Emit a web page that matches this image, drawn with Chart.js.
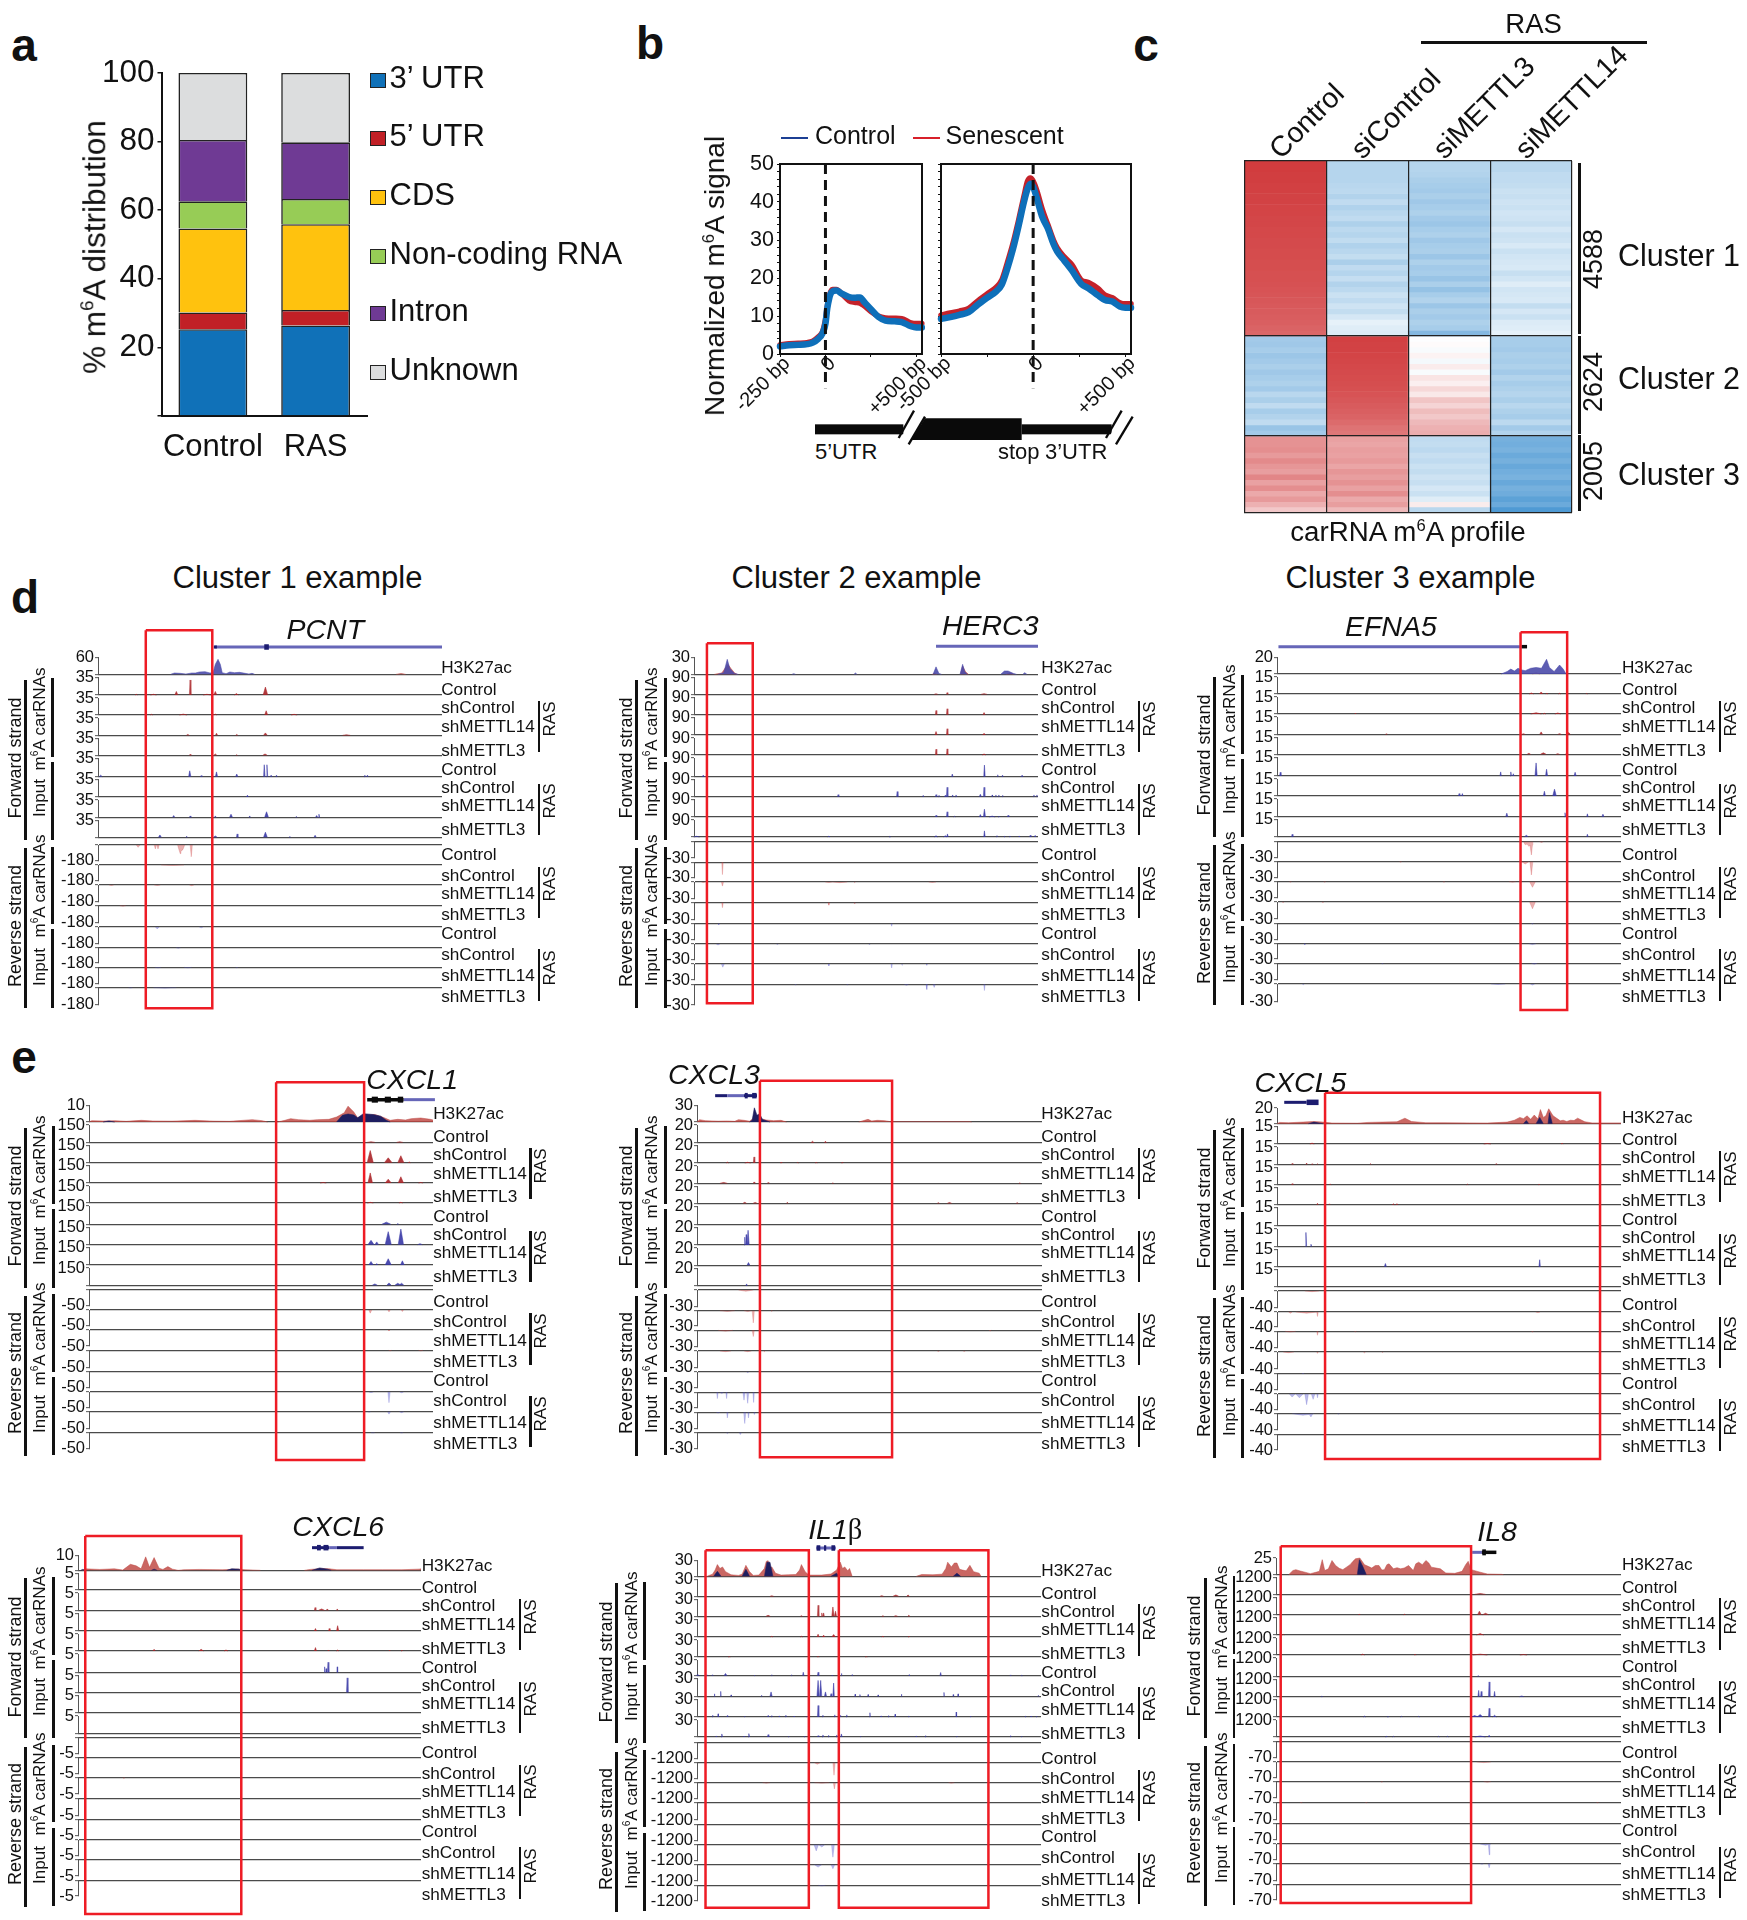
<!doctype html>
<html><head><meta charset="utf-8">
<style>
html,body{margin:0;padding:0;background:#fff;width:1747px;height:1920px;overflow:hidden;position:relative;font-family:"Liberation Sans",Arial,sans-serif;color:#111}
canvas{position:absolute}
.t{position:absolute;white-space:nowrap;line-height:1}
.r{position:absolute;background:#111}
sup{font-size:.6em;line-height:0;vertical-align:.62em}
</style>
<script src="https://cdn.jsdelivr.net/npm/chart.js@4"></script>
</head><body>
<script>
/* ---------- panel a ---------- */
const aCategories=['Control','RAS'];
const aSeries=["3’ UTR","5’ UTR","CDS","Non-coding RNA","Intron","Unknown"];
const aColors=['#1071b8','#c12026','#ffc20e','#97cc56','#6f3a94','#dcddde'];
const aControl=[25.3,4.9,24.5,7.9,17.9,19.5];
const aRAS=[26.4,4.5,25,7.4,16.5,20.2];
const aTicks=[20,40,60,80,100];

/* ---------- panel b ---------- */
const b5Pos=[-250,-200,-150,-100,-70,-40,-15,0,10,20,30,40,60,90,130,160,190,215,250,290,330,380,420,470,500,530];
const b5Control=[2,2.3,2.4,2.6,3,4,5.5,8,12,14.5,16,16.5,16.7,15.9,15,14.8,14.9,13.6,11.8,9.8,8.8,8.6,8.4,7.3,7,7];
const b5Senescent=[2.4,2.7,2.8,3,3.4,4.5,6,9,12.5,15,16.5,17,17,15.8,14,13.6,13.4,12.6,11.2,10,9.5,9.4,9.3,8.2,8,8];
const b3Pos=[-500,-450,-400,-350,-300,-250,-200,-170,-140,-110,-80,-50,-30,-15,0,20,50,80,110,130,170,210,260,300,350,390,430,470,500,531];
const b3Control=[9.2,9.7,10.3,11,13,14.8,16.5,18.3,22.5,27.5,33.5,40,43.5,44.8,44,41,36,33,29,27,24.5,22,18.5,17.3,15.5,14.2,13.8,12.5,12.2,12.2];
const b3Senescent=[10.2,10.8,11.3,12,14,15.8,17.6,19.5,24,29,35,41.5,45.5,46.3,45.5,43,38,34,30,28,25.5,23.5,19.5,18.8,17.3,15.5,14.8,13.5,13.2,13.2];

/* ---------- panel c ---------- */
const cColumns=['Control','siControl','siMETTL3','siMETTL14'];
const cClusterGenes=[4588,2624,2005];
const cClusterRows=[32,18,14];
const heatControl=[100,100,99,99,98,98,97,97,96,96,95,95,94,94,93,93,92,92,91,91,90,90,89,88,87,86,85,84,83,82,80,78,
 -52,-54,-50,-56,-52,-48,-54,-50,-46,-52,-40,-48,-36,-50,-44,-36,-58,-52,
 56,56,58,52,60,54,50,62,48,58,44,52,40,28];
const heatSiControl=[-42,-42,-42,-42,-40,-38,-44,-36,-45,-40,-36,-46,-38,-42,-35,-45,-40,-34,-48,-36,-42,-33,-44,-38,-30,-36,-28,-34,-24,-14,-18,-20,
 98,97,97,96,95,94,93,92,91,90,88,86,84,82,80,76,72,70,
 48,46,50,48,52,46,54,50,56,48,58,44,50,36];
const heatSiMETTL3=[-42,-42,-44,-48,-50,-52,-48,-54,-50,-46,-52,-56,-50,-46,-54,-50,-48,-56,-46,-52,-50,-58,-48,-60,-50,-44,-56,-48,-52,-46,-50,-70,
 -1,2,-4,6,-6,10,-4,14,8,20,12,30,22,34,28,36,40,42,
 -36,-34,-38,-32,-36,-30,-34,-28,-32,-24,-30,-18,10,-40];
const heatSiMETTL14=[-40,-40,-36,-36,-34,-30,-32,-28,-30,-26,-28,-32,-24,-30,-28,-22,-30,-26,-24,-22,-32,-26,-18,-26,-24,-22,-34,-24,-30,-20,-18,-14,
 -50,-50,-52,-48,-50,-46,-52,-44,-50,-46,-42,-48,-40,-46,-50,-38,-52,-44,
 -78,-80,-76,-84,-78,-86,-80,-76,-86,-78,-82,-92,-84,-100];

/* ---------- browser tracks: peaks are [position, % of track scale, half-width] ---------- */
const trackNames=['H3K27ac','Control','shControl','shMETTL14','shMETTL3','Control','shControl','shMETTL14','shMETTL3','Control','shControl','shMETTL14','shMETTL3','Control','shControl','shMETTL14','shMETTL3'];

const PCNT_h3kA=[[1035,0],[1048,5],[1060,0]];
const PCNT_h3kB=[[445,0],[455,8],[470,6],[485,2],[500,8],[510,8],[520,14],[535,16],[548,8],[556,10],[562,60],[569,90],[575,60],[580,10],[590,4],[600,14],[612,10],[625,12],[640,6],[650,2],[658,6],[665,0]];
const PCNT_gene=[[560,1155,'l'],[558,566,'d'],[690,702,'e']];
const PCNT_fwd=[[[460,20,4],[496,85,2],[562,20,4],[617,8,5],[693,45,6],[355,4,3],[400,4,8],[540,4,10]],
 [[695,25,4],[478,5,10],[562,5,4],[768,4,8],[395,4,3]],
 [[565,12,3],[693,14,5],[490,5,4],[618,5,3],[905,3,10]],
 [[496,6,2],[562,8,4],[618,4,2],[692,8,6]],
 [[262,8,4],[495,32,3],[525,6,2],[565,26,3],[618,14,3],[690,65,2],[697,65,2],[708,8,3],[722,8,2],[953,8,2],[960,8,2]],
 [[646,10,3]],
 [[453,10,3],[496,8,2],[562,8,2],[603,18,4],[652,8,2],[696,32,5],[774,5,2],[827,10,3],[833,18,2]],
 [[417,14,4],[487,6,2],[562,8,5],[619,20,2],[693,30,5],[757,5,2],[823,12,3]]];
const PCNT_rev=[[[360,15,5],[405,25,3],[412,25,3],[470,55,7],[477,30,5],[499,75,3]],
 [[450,3,30]],[[290,3,6],[500,4,6],[410,3,8]],[[320,3,8]],
 [[410,12,5],[525,5,5]],[[465,4,6]],[[412,3,8],[490,3,10],[618,3,3]],[[430,3,30],[340,2,5]]];

const HERC3_h3kA=[[310,0],[330,8],[340,40],[347,60],[355,35],[365,8],[372,0],[900,0],[905,8],[912,0],[976,0],[982,50],[990,15],[998,0],[1100,0],[1110,10],[1120,0]];
const HERC3_h3kB=[[320,0],[335,10],[338,30],[345,90],[352,35],[365,5],[375,0],[520,0],[525,4],[530,0],[688,0],[692,8],[696,0],[902,0],[910,45],[918,5],[925,0],[975,0],[982,60],[988,15],[995,0],[1085,0],[1095,20],[1105,20],[1120,5],[1128,0],[1145,0],[1150,10],[1156,0]];
const HERC3_gene=[[910,1186,'l']];
const HERC3_fwd=[[[940,10,2],[910,3,5],[1040,4,8]],
 [[910,24,2],[940,34,2],[1040,12,3]],
 [[910,20,3],[940,36,2],[1040,10,4]],
 [[910,34,2],[940,36,2],[1040,6,5]],
 [[280,8,3],[954,14,2],[1041,62,2],[1077,10,1],[1090,8,2],[1143,8,3]],
 [[645,12,2],[805,30,2],[875,6,1],[910,12,2],[918,8,2],[935,8,2],[940,55,2],[955,10,2],[964,10,2],[1030,14,3],[1040,55,2],[1062,10,1],[1072,10,1],[1080,10,1],[1090,8,1],[1175,10,1],[1183,10,1]],
 [[910,10,2],[940,30,2],[960,4,2],[1030,14,3],[1041,45,3],[1062,5,8],[1105,10,2],[1080,5,2]],
 [[262,4,8],[620,5,3],[785,4,2],[910,8,4],[935,8,4],[941,18,2],[1041,36,2],[1075,8,1],[1095,6,1],[1110,6,1],[1135,6,1],[1165,10,2],[1178,8,1]]];
const HERC3_rev=[[],[[332,80,2]],[[280,3,5],[332,25,3],[620,3,10],[650,4,20],[690,4,2],[900,3,10]],[[332,30,2],[620,15,2],[690,8,2]],
 [[790,16,2],[322,8,2]],[[320,6,5],[480,3,2],[730,5,2]],[[333,20,4],[620,12,2],[790,25,2],[818,8,1],[885,8,1]],[[885,25,2],[905,15,3],[1041,30,2],[530,4,2],[670,4,2],[830,5,6]]];

const EFNA5_h3kA=[[975,0],[985,8],[995,0]];
const EFNA5_h3kB=[[888,0],[905,15],[915,30],[925,18],[935,35],[945,25],[955,20],[970,35],[985,40],[1000,35],[1014,90],[1022,40],[1035,15],[1050,55],[1060,30],[1068,0]];
const EFNA5_gene=[[272,945,'l'],[945,960,'k']];
const EFNA5_fwd=[[[999,12,5],[972,6,6],[1015,4,3],[1050,4,3],[1125,3,2]],
 [[485,5,2],[985,7,15],[1008,4,4],[1045,6,8]],
 [[999,14,4],[570,3,2],[950,3,5],[1075,10,5],[1050,4,5]],
 [[965,6,5],[1005,9,8],[1045,4,5],[1070,4,5]],
 [[277,20,2],[887,22,2],[915,22,2],[922,12,2],[985,70,3],[1014,36,3],[1093,20,3]],
 [[772,14,2],[781,14,2],[1008,28,3],[1036,40,5]],
 [[904,20,3],[1065,22,2],[1127,16,2],[1170,14,3]],
 [[310,14,2],[958,8,5],[1127,14,2]]];
const EFNA5_rev=[[[965,30,10],[972,85,4],[955,20,5],[1000,5,5]],
 [[972,85,4],[955,15,10],[610,3,3]],
 [[975,35,8],[305,3,3],[400,3,3],[730,3,3],[920,3,10]],
 [[975,40,8],[285,3,3],[395,3,3]],
 [[975,5,3]],[[345,8,2],[975,6,10]],[[560,5,2],[980,5,8]],[[975,6,6],[340,4,2],[880,3,20]]];

const CXCL1_h3kA=[[233,0],[240,8],[270,6],[300,8],[330,4],[370,10],[400,6],[450,5],[510,10],[560,5],[600,4],[660,14],[685,8],[700,0],[725,0],[745,10],[760,20],[780,14],[810,10],[830,14],[860,16],[880,30],[900,55],[910,95],[925,60],[935,25],[955,40],[980,45],[1000,30],[1020,10],[1040,16],[1060,12],[1075,20],[1100,24],[1125,16],[1132,12]];
const CXCL1_h3kB=[[270,0],[285,6],[300,0],[880,0],[895,40],[910,48],[925,42],[935,25],[950,50],[975,45],[995,35],[1010,10],[1020,0]];
const CXCL1_gene=[[1055,1137,'l'],[960,1055,'k'],[972,988,'x'],[1006,1022,'x'],[1040,1054,'x']];
const CXCL1_fwd=[[[970,3,10],[1045,3,8]],
 [[968,70,8],[1015,28,10],[1048,40,8],[1070,4,3]],
 [[968,58,6],[1015,22,8],[1048,36,7],[845,3,8],[1100,3,6]],
 [[968,4,8],[1048,4,5]],
 [[1010,12,12],[1040,5,2]],
 [[970,25,8],[985,16,5],[1015,75,8],[1048,90,7],[1098,6,6]],
 [[970,20,6],[985,8,3],[1015,36,8],[1052,24,5]],
 [[980,8,7],[1017,14,6],[1040,12,8],[1050,12,6]]];
const CXCL1_rev=[[],[[968,20,4],[1017,12,3],[1052,10,3]],[[1017,6,2]],[[1020,3,4],[1100,3,6]],
 [],[[970,4,6],[1017,70,3],[1050,5,5]],[[1017,15,4],[965,3,4],[1050,6,6]],[[975,2,5],[1050,2,4]]];

const CXCL3_h3kA=[[263,0],[270,14],[285,8],[320,5],[345,6],[365,4],[375,14],[390,10],[405,5],[420,30],[435,20],[450,12],[470,8],[490,10],[505,0],[700,0],[725,16],[735,6],[750,10],[770,8],[785,2],[1000,2],[1005,0]];
const CXCL3_h3kB=[[405,0],[412,10],[418,85],[425,40],[432,50],[440,15],[460,0]];
const CXCL3_gene=[[312,345,'d'],[345,390,'l'],[390,425,'d'],[392,400,'e'],[412,424,'e']];
const CXCL3_fwd=[[[575,8,4],[610,8,3]],
 [[417,35,2],[345,5,3],[400,4,8],[490,4,2],[535,3,2],[585,3,3],[655,3,2]],
 [[335,5,10],[417,8,2],[455,5,2],[630,3,2],[1135,3,2]],
 [[392,6,5],[420,5,6],[507,6,2],[915,4,3],[945,5,6],[1128,4,3]],
 [],[[392,45,2],[396,60,1],[401,85,3]],[[402,16,4]],[[397,10,2]]];
const CXCL3_rev=[[[395,8,20]],[[345,5,20],[415,80,3],[400,6,10],[465,4,2]],[[340,5,20],[415,38,3],[1055,4,3]],[[340,4,15],[400,4,10],[445,4,2],[915,3,3],[985,3,3]],
 [[400,4,3]],[[318,40,2],[343,40,2],[330,8,5],[390,50,3],[400,70,3],[416,65,2]],[[345,35,2],[320,4,5],[392,70,3],[402,35,2],[418,14,2]],[[345,6,3],[380,12,3]]];

const CXCL5_h3kA=[[268,0],[275,8],[300,6],[340,10],[370,14],[395,10],[420,4],[490,3],[520,8],[560,10],[600,12],[622,35],[640,14],[680,6],[730,6],[800,5],[850,4],[905,10],[925,22],[940,40],[950,32],[960,50],[970,28],[980,55],[990,30],[997,90],[1005,40],[1012,50],[1020,95],[1032,50],[1045,30],[1052,18],[1060,22],[1070,14],[1080,22],[1090,20],[1100,35],[1120,12],[1140,5],[1220,5]];
const CXCL5_h3kB=[[355,0],[370,10],[395,0],[950,0],[958,20],[965,0],[985,0],[995,40],[1005,0],[1018,0],[1022,70],[1030,0]];
const CXCL5_gene=[[288,350,'d'],[350,383,'e']];
const CXCL5_fwd=[[[365,5,6],[850,3,10],[1057,4,3]],
 [[310,5,2],[350,7,2],[365,3,2],[380,3,2],[527,4,2],[875,4,3]],
 [[310,6,2],[415,3,3],[795,3,2],[993,4,2]],
 [[380,8,2],[413,5,2],[590,5,3],[600,5,3]],
 [],[[348,80,2],[362,12,2]],[[568,18,3],[995,40,2]],[]];
const CXCL5_rev=[[[365,4,20]],[[305,8,5],[350,8,30],[380,30,2],[990,4,6]],[[305,4,15],[380,24,2],[975,4,3],[485,3,3]],[[300,4,15],[380,8,2],[510,5,3],[560,3,2]],
 [[340,3,3]],[[350,70,5],[310,20,8],[330,25,10],[368,35,5],[380,25,2]],[[340,10,30],[362,20,5],[438,3,3]],[]];

const CXCL6_h3kA=[[215,0],[222,10],[260,6],[298,10],[320,2],[340,40],[355,30],[368,10],[380,90],[390,20],[402,85],[415,14],[425,6],[438,25],[450,8],[465,0],[480,4],[520,6],[580,4],[620,8],[640,4],[680,0],[795,0],[810,6],[840,12],[860,10],[880,4],[950,4],[1000,4],[1050,4],[1095,8],[1100,10]];
const CXCL6_h3kB=[[210,0],[215,6],[222,0],[395,0],[402,8],[410,0],[592,0],[605,10],[625,8],[628,0],[815,0],[835,16],[855,8],[865,0]];
const CXCL6_gene=[[815,860,'d'],[860,880,'l'],[880,950,'d'],[828,838,'e'],[845,858,'e']];
const CXCL6_fwd=[[],[[823,16,2],[840,8,8],[855,8,3],[881,8,2]],[[824,14,3],[860,14,2],[882,30,3]],
 [[402,10,3],[525,10,6],[590,6,5],[824,20,3],[858,6,2],[882,6,3],[1018,5,2],[1050,5,2]],
 [[848,30,1],[852,20,1],[857,55,2],[881,30,1]],[[907,85,2]],[],[]];
const CXCL6_rev=[[],[],[[323,5,3]],[],[],[],[],[]];

const IL1B_h3kA=[[290,0],[305,14],[312,40],[318,75],[325,50],[332,60],[340,30],[355,10],[375,6],[385,14],[395,70],[405,30],[415,6],[430,8],[445,50],[450,95],[455,100],[460,55],[465,60],[475,20],[490,8],[510,10],[530,12],[540,40],[545,75],[555,30],[565,8],[600,8],[625,15],[640,40],[650,90],[656,50],[662,60],[670,35],[675,50],[682,0],[855,0],[870,12],[900,10],[925,14],[935,50],[940,90],[950,60],[958,85],[965,85],[972,45],[980,40],[990,35],[1000,70],[1010,30],[1025,20],[1030,0]];
const IL1B_h3kB=[[308,0],[318,32],[328,0],[385,0],[395,45],[405,0],[445,0],[452,90],[460,90],[468,0],[625,0],[640,20],[648,0],[955,0],[965,20],[975,0]];
const IL1B_gene=[[585,638,'l'],[586,596,'e'],[606,612,'e'],[626,636,'e']];
const IL1B_fwd=[[[762,4,5],[800,8,8],[833,8,4],[465,3,5]],
 [[590,65,2],[600,20,2],[605,20,2],[630,55,3],[637,30,3],[455,6,6],[545,4,3],[835,6,3],[800,4,5],[765,3,3]],
 [[590,16,3],[605,10,4],[632,14,5],[545,4,3],[465,4,3],[765,4,3],[835,5,2]],
 [[590,3,3],[350,2,3],[720,2,3]],
 [[265,6,5],[290,6,2],[305,6,2],[340,14,4],[418,4,1],[465,6,1],[518,6,1],[550,22,2],[590,22,2],[628,4,1],[653,14,1],[682,6,1],[836,6,1],[921,20,2],[1110,5,2],[1140,3,2]],
 [[310,14,1],[327,28,1],[355,8,1],[437,6,1],[463,25,3],[590,90,3],[597,90,3],[610,25,3],[625,15,2],[632,75,2],[690,12,1],[703,10,1],[725,10,1],[752,8,1],[815,12,1],[930,22,1],[955,10,1],[968,14,1],[1185,5,2]],
 [[305,10,1],[320,18,1],[345,8,1],[392,4,1],[455,8,1],[465,8,1],[485,6,1],[503,10,1],[525,5,1],[560,5,1],[590,65,2],[603,10,1],[635,12,1],[650,8,1],[667,12,1],[730,24,1],[760,6,1],[780,8,1],[798,16,1],[835,6,1],[963,28,1],[1002,5,1],[1150,6,1],[1165,5,1],[1180,5,1]],
 [[315,6,1],[330,18,2],[390,5,1],[403,20,2],[455,14,2],[510,4,1],[553,5,1],[590,8,2],[603,12,2],[618,10,1],[640,12,1],[653,18,2],[705,4,1],[855,6,1],[880,8,1],[965,5,1],[1110,8,1],[1140,4,1]]];
const IL1B_rev=[[],[[588,10,8],[633,80,3]],[[450,3,10],[600,3,20],[634,40,3],[950,3,8]],[],
 [],[[585,40,6],[600,15,8],[630,80,4]],[[590,15,10],[630,25,5]],[[600,3,10]]];

const IL8_h3kA=[[300,0],[312,25],[320,30],[332,22],[345,15],[360,6],[375,14],[385,20],[393,90],[400,25],[410,35],[420,85],[430,55],[440,38],[450,30],[460,45],[470,60],[478,80],[485,95],[497,100],[510,60],[520,50],[530,40],[540,55],[550,55],[558,28],[565,30],[572,60],[578,65],[590,35],[600,42],[610,35],[620,40],[632,55],[645,25],[652,65],[660,75],[670,60],[680,85],[688,70],[695,45],[708,40],[720,35],[735,10],[760,8],[780,20],[790,60],[797,80],[805,30],[830,15],[850,4],[890,2],[895,0]];
const IL8_h3kB=[[490,0],[496,90],[505,50],[515,0]];
const IL8_gene=[[808,835,'l'],[835,875,'k'],[836,846,'x']];
const IL8_fwd=[[[830,5,15]],[[828,20,5],[845,8,8],[495,3,2],[620,3,2]],[[830,8,10],[285,3,3]],[[505,5,5],[650,3,3],[830,5,20],[950,3,10]],
 [[825,3,3]],[[826,36,2],[833,30,2],[855,85,2],[870,30,2],[392,4,2],[945,4,6]],[[815,8,10],[830,14,8],[855,50,2],[870,10,5],[510,5,3],[575,4,2],[612,4,2],[660,4,2]],[[570,4,2],[590,4,2],[715,4,2],[740,4,2],[830,6,15],[855,10,3]]];
const IL8_rev=[[],[[840,4,20]],[[558,3,3],[850,3,10]],[[335,3,3],[515,3,3],[1155,3,3]],
 [],[[845,8,15],[855,70,2]],[[855,25,3],[835,4,5]],[]];

/* ---------- helpers ---------- */
const FONT='"Liberation Sans",Arial,sans-serif';
Chart.defaults.animation=false;
Chart.defaults.responsive=false;
Chart.defaults.events=[];
Chart.defaults.font.family=FONT;
Chart.defaults.color='#111';
Chart.defaults.plugins.legend.display=false;
Chart.defaults.plugins.tooltip.enabled=false;
const body=document.body;
function t(html,x,y,size,o={}){
  const e=document.createElement('div');e.className='t';e.innerHTML=html;
  e.style.left=x+'px';e.style.top=y+'px';e.style.fontSize=size+'px';
  if(o.bold)e.style.fontWeight='bold';
  if(o.italic)e.style.fontStyle='italic';
  const rot=o.rot||0;
  if(o.left){e.style.transformOrigin='0 50%';e.style.transform=`translate(0,-50%) rotate(${rot}deg)`;}
  else e.style.transform=`translate(-50%,-50%) rotate(${rot}deg)`;
  body.appendChild(e);return e;
}
function rect(x,y,w,h,c){const e=document.createElement('div');e.className='r';
  e.style.cssText+=`left:${x}px;top:${y}px;width:${w}px;height:${h}px;`+(c?`background:${c};`:'');body.appendChild(e);return e;}
function mk(l,tp,w,h){const c=document.createElement('canvas');c.width=w;c.height=h;c.style.left=l+'px';c.style.top=tp+'px';body.appendChild(c);return c.getContext('2d');}

/* panel letters and section titles */
t('a',24,45,46,{bold:true});t('b',650,43,46,{bold:true});t('c',1146,45,46,{bold:true});t('d',25,597,46,{bold:true});t('e',24,1057,46,{bold:true});
t('Cluster 1 example',297.5,577,31);t('Cluster 2 example',856.5,577,31);t('Cluster 3 example',1410.5,577,31);

/* ---------- panel a chart ---------- */
new Chart(mk(60,50,327,420),{type:'bar',
 data:{labels:aCategories,datasets:aSeries.map((s,i)=>({label:s,data:[aControl[i],aRAS[i]],backgroundColor:aColors[i],borderColor:'#222',borderWidth:1.6,barPercentage:.67,categoryPercentage:1}))},
 options:{layout:{padding:{top:23,right:20,left:0,bottom:0}},
  scales:{
   x:{stacked:true,grid:{display:false},border:{color:'#111',width:2},afterFit:s=>{s.height=54},ticks:{autoSkip:false,font:{size:31},padding:5,maxRotation:0}},
   y:{stacked:true,min:0,max:100,afterFit:s=>{s.width=101.5},border:{color:'#111',width:2},
    grid:{drawOnChartArea:false,tickLength:4,color:'#111',lineWidth:1.5},
    ticks:{stepSize:10,font:{size:31.5},padding:3,callback:v=>aTicks.includes(v)?String(v):''}}}}});
t('% m<sup>6</sup>A distribution',95,247,31.5,{rot:-90});
aSeries.forEach((s,i)=>{const yy=[240,415,590,767,940,1115][i]/3;
  const b=rect(369.5,yy-7,16.5,15,aColors[i]);b.style.border='1.6px solid #222';b.style.boxSizing='border-box';
  t(s,389.5,yy-3,31,{left:true});});

/* ---------- panel b charts ---------- */
const boxFrame={id:'boxFrame',afterDraw(c){const a=c.chartArea,g=c.ctx;g.save();g.strokeStyle='#111';g.lineWidth=2;g.strokeRect(a.left,a.top,a.right-a.left,a.bottom-a.top);g.restore();}};
function bChart(l,w,xmin,xmax,pos,ctl,sen,ticks,lbl,showY){
 return new Chart(mk(l,140,w,290),{type:'line',
  data:{datasets:[
   {data:[{x:0,y:50},{x:0,y:-9}],borderColor:'#111',borderWidth:3,borderDash:[10,6],pointRadius:0,clip:false},
   {data:pos.map((x,i)=>({x,y:ctl[i]})),borderColor:'#0e6fb9',borderWidth:6.5,pointRadius:0,cubicInterpolationMode:'monotone',borderCapStyle:'round',clip:false},
   {data:pos.map((x,i)=>({x,y:sen[i]})),borderColor:'#c4222a',borderWidth:5.5,pointRadius:0,cubicInterpolationMode:'monotone',borderCapStyle:'round',clip:false}]},
  options:{layout:{padding:{top:24,right:25,left:0,bottom:0}},
   scales:{
    x:{type:'linear',min:xmin,max:xmax,afterFit:s=>{s.height=76},afterBuildTicks:s=>{s.ticks=ticks.map(v=>({value:v}))},
      border:{color:'#111',width:2},grid:{drawOnChartArea:false,tickLength:3,color:'#111'},
      ticks:{autoSkip:false,minRotation:45,maxRotation:45,font:{size:20},padding:-5,labelOffset:7,callback:v=>lbl[v]||''}},
    y:{min:0,max:50,afterFit:s=>{s.width=90},border:{color:'#111',width:2},
      grid:{drawOnChartArea:false,tickLength:3,color:'#111'},
      ticks:{stepSize:2,autoSkip:false,font:{size:21.5},padding:3,callback:v=>showY&&v%10===0?String(v):''}}}},
  plugins:[boxFrame]});
}
bChart(690,257,-250,531,b5Pos,b5Control,b5Senescent,[-250,0,250,500],{'-250':'-250 bp','0':'0','500':'+500 bp'},true);
bChart(851,305,-500,531,b3Pos,b3Control,b3Senescent,[-500,-250,0,250,500],{'-500':'-500 bp','0':'0','500':'+500 bp'},false);
t('Normalized m<sup>6</sup>A signal',715,276,28,{rot:-90});
rect(781,136.5,27,2.5,'#1c3f94');rect(912.5,136.5,27,2.5,'#d8202a');
t('Control',815,135,25,{left:true});t('Senescent',945.5,135,25,{left:true});
t('5’UTR',815,452,22,{left:true});t('stop',998,452,22,{left:true});t('3’UTR',1045,452,22,{left:true});
const ns='http://www.w3.org/2000/svg';
const sv=document.createElementNS(ns,'svg');sv.setAttribute('viewBox','0 0 1560 1440');sv.setAttribute('width',520);sv.setAttribute('height',480);sv.style.cssText='position:absolute;left:640px;top:0';
sv.innerHTML='<rect x="525" y="1273" width="265" height="30" fill="#0a0a0a"/><polygon points="855,1255 1145,1255 1145,1320 815,1320" fill="#0a0a0a"/><rect x="1145" y="1273" width="270" height="30" fill="#0a0a0a"/>'+
 '<g stroke="#fff" stroke-width="20"><line x1="790" y1="1323" x2="838" y2="1240"/><line x1="1412" y1="1323" x2="1460" y2="1240"/></g>'+
 '<g stroke="#0a0a0a" stroke-width="7"><line x1="776" y1="1314" x2="822" y2="1232"/><line x1="806" y1="1333" x2="855" y2="1250"/><line x1="1398" y1="1314" x2="1445" y2="1232"/><line x1="1428" y1="1333" x2="1478" y2="1250"/></g>';
body.appendChild(sv);

/* ---------- panel c chart ---------- */
function heatColor(v){const a=Math.abs(v)/100,to=v>=0?[209,60,62]:[79,154,212];
  const c=to.map(k=>Math.round(255-a*(255-k)));return `rgb(${c[0]},${c[1]},${c[2]})`;}
const cDatasets=[];let cRow=0;
cClusterRows.forEach((n,ci)=>{for(let r=0;r<n;r++,cRow++){const g=cClusterGenes[ci]/n;
  cDatasets.push({data:cColumns.map(()=>g),stack:'s',borderWidth:0,barPercentage:1,categoryPercentage:1,
   backgroundColor:[heatControl,heatSiControl,heatSiMETTL3,heatSiMETTL14].map(col=>heatColor(col[cRow]))});}});
const cTotal=cClusterGenes[0]+cClusterGenes[1]+cClusterGenes[2];
new Chart(mk(1220,30,430,500),{type:'bar',data:{labels:cColumns,datasets:cDatasets},
 options:{layout:{padding:{left:24.4,right:78,top:0,bottom:17.5}},
  scales:{
   x:{position:'top',stacked:true,afterFit:s=>{s.height=130.7},grid:{offset:true,z:2,color:'#222',lineWidth:1.2,drawTicks:false},border:{display:false},
     ticks:{minRotation:45,maxRotation:45,autoSkip:false,font:{size:28.5},padding:-6,labelOffset:14}},
   y:{stacked:true,reverse:true,min:0,max:cTotal,afterFit:s=>{s.width=0},afterBuildTicks:s=>{s.ticks=[0,cClusterGenes[0],cClusterGenes[0]+cClusterGenes[1],cTotal].map(v=>({value:v}))},
     grid:{z:2,color:'#222',lineWidth:1.2,drawTicks:false},border:{display:false},ticks:{display:false}}}}});
rect(1577.5,162.5,3,171.5);rect(1577.5,336,3,97.6);rect(1577.5,435.4,3,76);
t('4588',1593,259,27,{rot:-90});t('2624',1593,382,27,{rot:-90});t('2005',1593,471,27,{rot:-90});
t('Cluster 1',1618,255,30.5,{left:true});t('Cluster 2',1618,378,30.5,{left:true});t('Cluster 3',1618,474,30.5,{left:true});
t('RAS',1533.6,24,27.5);rect(1421,41,226,2.5);
t('carRNA m<sup>6</sup>A profile',1408,532,27.7);

/* ---------- browser-track panels ---------- */
const GENE_STYLE={l:['#6666b8',3],d:['#1c1c70',3],k:['#0a0a0a',3.5],e:['#1c1c70',5.5],x:['#0a0a0a',6]};
const COL={fa:'rgba(170,35,40,.9)',fi:'rgba(55,55,165,.9)',ra:'rgba(205,70,70,.42)',ri:'rgba(80,80,200,.38)'};
function withGaps(p){const o=[];p.forEach((q,i)=>{if(i&&q.y===0&&p[i-1].y===0)o.push({x:(q.x+p[i-1].x)/2,y:null});o.push(q);});return o;}
function fromProfile(list,lim){return withGaps([...list].sort((a,b)=>a[0]-b[0]).map(q=>({x:q[0],y:q[1]/100*lim})));}
function fromPeaks(list,lim){
  const xs=[...new Set(list.flatMap(q=>{const w=q[2]||1.5;return[q[0]-w,q[0],q[0]+w];}))].sort((a,b)=>a-b);
  const v=x=>Math.max(...list.map(q=>{const w=q[2]||1.5;return Math.max(0,q[1]*(1-Math.abs(x-q[0])/w));}));
  return withGaps(xs.map(x=>({x,y:v(x)/100*lim})));
}
const AXW=70,PADR=8;
function panel(P){
  const ZY=3,ZX=P.zx, H=Math.min(460,1920-P.oy);
  const left=P.ox+P.xMin/ZX-AXW, W=Math.round((P.xMax-P.xMin)/ZX+AXW+PADR);
  const yp=z=>z/ZY;
  const b=P.base;
  const scales={x:{type:'linear',display:false,min:P.xMin,max:P.xMax}};
  const place={};
  const ds=[];
  const tick=(name,min,max,lim,tp,bt)=>{
    scales[name]={type:'linear',position:'left',stack:'tracks',min,max,afterFit:s=>{s.width=AXW},
      afterBuildTicks:s=>{s.ticks=[{value:0},{value:lim}]},
      border:{color:'#555',width:1},
      grid:{color:c=>c.tick&&c.tick.value===0?'#4a4a4a':'rgba(0,0,0,0)',tickColor:'#555',tickLength:3,lineWidth:1.3,tickWidth:1},
      ticks:{autoSkip:false,maxRotation:0,minRotation:0,padding:1,font:{size:16.5},color:'#111',callback:v=>v===0?'':String(v)}};
    place[name]=[yp(tp),yp(bt)];
  };
  /* frame and gene */
  scales.frame={type:'linear',display:false,min:0,max:1};place.frame=[0,H];
  scales.gene={type:'linear',display:false,min:-1,max:1};place.gene=[yp(P.geneY)-4,yp(P.geneY)+4];
  P.box.forEach(r=>{const y1=1-yp(r[2])/H,y2=1-yp(r[3])/H;
    ds.push({type:'scatter',showLine:true,xAxisID:'x',yAxisID:'frame',data:[{x:r[0],y:y1},{x:r[1],y:y1},{x:r[1],y:y2},{x:r[0],y:y2},{x:r[0],y:y1}],borderColor:'#ee1c25',borderWidth:2.5,pointRadius:0,clip:false,borderJoinStyle:'miter'});});
  [...P.gene].reverse().forEach(g=>{const st=GENE_STYLE[g[2]];
    ds.push({type:'line',xAxisID:'x',yAxisID:'gene',data:[{x:g[0],y:0},{x:g[1],y:0}],borderColor:st[0],borderWidth:st[1],pointRadius:0,clip:false});});
  /* H3K27ac */
  tick('t0',0,P.lim[0],P.lim[0],P.top,b[0]);
  const area=(list,col,yid,lim,fn)=>{if(!list.length)return;const d=fn(list,lim);
    ds.push({type:'line',xAxisID:'x',yAxisID:yid,data:d,borderColor:col,backgroundColor:col,borderWidth:.6,pointRadius:0,fill:'origin',tension:0,clip:false});};
  area(P.h3kB,P.blue,'t0',P.lim[0],fromProfile);
  area(P.h3kA,'rgba(190,70,65,.82)','t0',P.lim[0],fromProfile);
  /* forward */
  for(let i=0;i<8;i++){const n='t'+(i+1);
    tick(n,0,P.lim[1],P.lim[1],b[i]+9,b[i+1]);
    area(P.fwd[i],i<4?COL.fa:COL.fi,n,P.lim[1],fromPeaks);}
  /* reverse */
  for(let i=0;i<8;i++){const n='t'+(i+9),tp=b[i+9],bt=i<7?b[i+10]-13:P.end;
    tick(n,P.lim[2],0,P.lim[2],tp,bt);
    area(P.rev[i],i<4?COL.ra:COL.ri,n,P.lim[2],fromPeaks);}
  new Chart(mk(left,P.oy,W,H),{type:'line',data:{datasets:ds},
    options:{layout:{padding:{left:0,top:16,bottom:16,right:PADR}},scales},
    plugins:[{id:'pin',afterLayout(c){for(const k in place){const s=c.scales[k];s.top=place[k][0];s.bottom=place[k][1];s.height=s.bottom-s.top;s.configure();}}}]});

  /* text and brackets in page coordinates */
  const X=z=>P.ox+z/ZX, Y=z=>P.oy+z/ZY;
  t(P.title,X(P.tx),Y(P.ty),28.5,{italic:!P.rawTitle});
  const L=[0,68,122,178,249,307,361,416,488,563,624,680,743,799,861,926,989];
  trackNames.forEach((n,i)=>t(n,X(P.lx),Y(P.ly+L[i]),17.2,{left:true}));
  [[100,254,157],[349,503,402],[597,751,652],[845,999,902]].forEach(a=>{
    rect(X(P.rb)-1,Y(P.ly+a[0]),2.6,(a[1]-a[0])/ZY);
    t('RAS',X(P.rt),Y(P.ly+a[2]-2),17,{rot:-90});});
  const g=P.gy;
  [[360,840],[865,1345]].forEach(a=>rect(X(P.sb)-1,Y(a[0]+g),2.8,(a[1]-a[0])/ZY));
  [[355,590],[605,840],[860,1092],[1108,1343]].forEach(a=>rect(X(P.mb)-1,Y(a[0]+g),2.8,(a[1]-a[0])/ZY));
  t('Forward strand',X(P.sx),Y(595+g),18,{rot:-90});t('Reverse strand',X(P.sx),Y(1097+g),18,{rot:-90});
  [[478,'m<sup>6</sup>A carRNAs'],[715,'Input'],[978,'m<sup>6</sup>A carRNAs'],[1220,'Input']].forEach(a=>t(a[1],X(P.mx),Y(a[0]+g),17,{rot:-90}));
}
const navy='#1e1e60', mid='rgba(75,75,170,.9)';
const ZC1=1568/600, ZC2=1568/580, ZC3=1568/567;
[
 {title:'PCNT',zx:ZC1,tx:850,ty:207,ox:0,oy:560,xMin:255,xMax:1155,gene:PCNT_gene,geneY:261,top:293,end:1333,lim:[60,35,-180],base:[343,405,465,526,586,650,711,772,832,855,915,975,1037,1101,1163,1222,1283],h3kA:PCNT_h3kA,h3kB:PCNT_h3kB,fwd:PCNT_fwd,rev:PCNT_rev,blue:mid,box:[[380,554,211,1345]],lx:1153,ly:323,rb:1408,rt:1435,sx:38,sb:66,mx:103,mb:137,gy:0},
 {title:'HERC3',zx:ZC2,tx:1055,ty:195,ox:600,oy:560,xMin:255,xMax:1186,gene:HERC3_gene,geneY:259,top:293,end:1335,lim:[30,90,-30],base:[343,403,464,525,585,650,710,771,831,845,907,966,1028,1091,1152,1212,1273],h3kA:HERC3_h3kA,h3kB:HERC3_h3kB,fwd:HERC3_fwd,rev:HERC3_rev,blue:mid,box:[[290,414,250,1330]],lx:1193,ly:323,rb:1456,rt:1485,sx:70,sb:97,mx:138,mb:175,gy:0},
 {title:'EFNA5',zx:ZC3,tx:583,ty:197,ox:1180,oy:560,xMin:268,xMax:1220,gene:EFNA5_gene,geneY:260,top:293,end:1325,lim:[20,15,-30],base:[342,402,462,523,583,648,708,770,830,845,905,965,1026,1090,1151,1210,1272],h3kA:EFNA5_h3kA,h3kB:EFNA5_h3kB,fwd:EFNA5_fwd,rev:EFNA5_rev,blue:mid,box:[[942,1071,217,1350]],lx:1222,ly:323,rb:1493,rt:1520,sx:65,sb:95,mx:135,mb:172,gy:-9},
 {title:'CXCL1',zx:ZC1,tx:1077,ty:147,ox:0,oy:1030,xMin:233,xMax:1132,gene:CXCL1_gene,geneY:209,top:226,end:1255,lim:[10,150,-50],base:[276,337,398,459,519,583,644,705,766,778,840,900,961,1025,1086,1145,1208],h3kA:CXCL1_h3kA,h3kB:CXCL1_h3kB,fwd:CXCL1_fwd,rev:CXCL1_rev,blue:navy,box:[[722,952,157,1290]],lx:1132,ly:253,rb:1386,rt:1412,sx:38,sb:65,mx:103,mb:138,gy:-67},
 {title:'CXCL3',zx:ZC2,tx:308,ty:132,ox:600,oy:1030,xMin:263,xMax:1195,gene:CXCL3_gene,geneY:197,top:226,end:1255,lim:[30,20,-30],base:[276,338,399,460,520,584,645,706,767,780,842,901,963,1026,1087,1147,1208],h3kA:CXCL3_h3kA,h3kB:CXCL3_h3kB,fwd:CXCL3_fwd,rev:CXCL3_rev,blue:navy,box:[[433,790,152,1282]],lx:1193,ly:253,rb:1456,rt:1485,sx:70,sb:97,mx:138,mb:175,gy:-67},
 {title:'CXCL5',zx:ZC3,tx:333,ty:157,ox:1180,oy:1030,xMin:268,xMax:1220,gene:CXCL5_gene,geneY:217,top:234,end:1260,lim:[20,15,-40],base:[281,342,403,464,524,588,649,710,771,783,846,904,966,1030,1092,1151,1213],h3kA:CXCL5_h3kA,h3kB:CXCL5_h3kB,fwd:CXCL5_fwd,rev:CXCL5_rev,blue:navy,box:[[401,1162,188,1287]],lx:1222,ly:263,rb:1493,rt:1520,sx:65,sb:95,mx:135,mb:172,gy:-60},
 {title:'CXCL6',zx:ZC1,tx:884,ty:137,ox:0,oy:1480,xMin:203,xMax:1100,gene:CXCL6_gene,geneY:203,top:226,end:1248,lim:[10,5,-5],base:[271,330,391,453,513,577,637,699,760,772,833,893,955,1019,1080,1139,1201],h3kA:CXCL6_h3kA,h3kB:CXCL6_h3kB,fwd:CXCL6_fwd,rev:CXCL6_rev,blue:navy,box:[[222,630,168,1302]],lx:1102,ly:257,rb:1358,rt:1385,sx:38,sb:65,mx:103,mb:138,gy:-65},
 {title:'<i>IL1</i><span style="font-family:\'Liberation Serif\',serif">β</span>',rawTitle:true,zx:ZC2,tx:636,ty:150,ox:600,oy:1480,xMin:263,xMax:1192,gene:IL1B_gene,geneY:204,top:242,end:1263,lim:[30,30,-1200],base:[289,349,409,471,531,587,649,711,771,787,848,908,968,1033,1094,1154,1216],h3kA:IL1B_h3kA,h3kB:IL1B_h3kB,fwd:IL1B_fwd,rev:IL1B_rev,blue:navy,box:[[286,565,211,1283],[646,1050,211,1283]],lx:1193,ly:273,rb:1456,rt:1485,sx:15,sb:44,mx:83,mb:120,gy:-50},
 {title:'IL8',zx:ZC3,tx:877,ty:153,ox:1180,oy:1480,xMin:265,xMax:1220,gene:IL8_gene,geneY:217,top:234,end:1260,lim:[25,1200,-70],base:[284,343,404,465,525,589,650,711,771,785,846,905,967,1031,1092,1151,1214],h3kA:IL8_h3kA,h3kB:IL8_h3kB,fwd:IL8_fwd,rev:IL8_rev,blue:navy,box:[[278,805,199,1269]],lx:1222,ly:255,rb:1493,rt:1520,sx:40,sb:70,mx:112,mb:148,gy:-67}
].forEach(panel);
</script>
</body></html>
